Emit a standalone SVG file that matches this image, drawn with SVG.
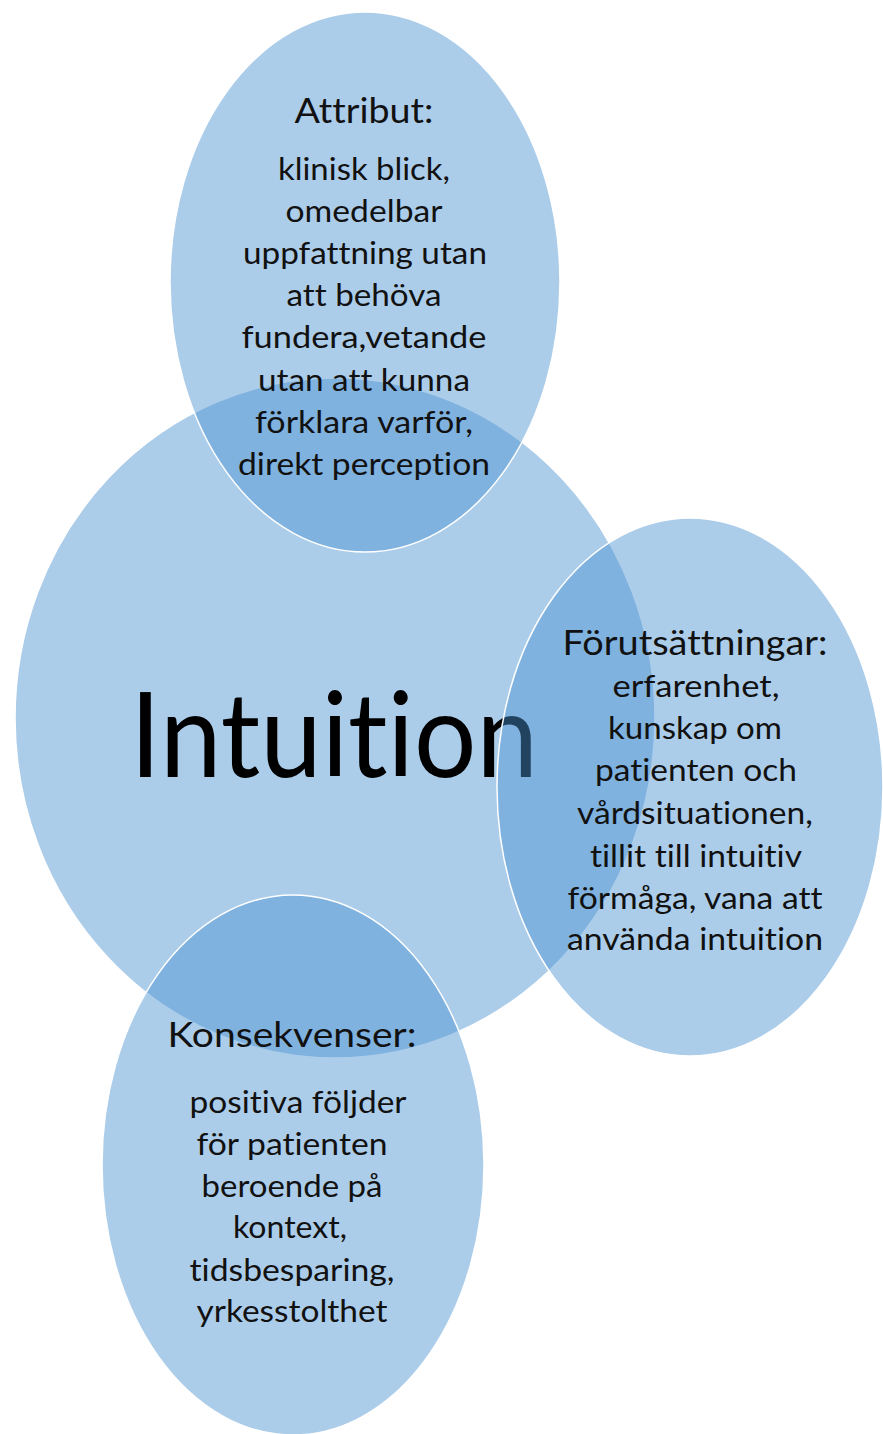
<svg xmlns="http://www.w3.org/2000/svg" width="883" height="1434" viewBox="0 0 883 1434">
<style>
.shape{fill:#4a92d1;fill-opacity:0.46;stroke:#ffffff;stroke-width:1.5}
text{font-family:Lato,"Open Sans","Liberation Sans",sans-serif;fill:#111111;text-anchor:middle;font-variant-ligatures:none;font-feature-settings:"liga" 0,"clig" 0,"dlig" 0}
.h{font-size:34px}
.b{font-size:31px}
.big{font-size:118px;fill:#000000}
</style>
<rect width="883" height="1434" fill="#ffffff"/>
<g id="intuition">
<ellipse class="shape" cx="335" cy="718" rx="320" ry="340"/>
<text class="big" x="334" y="777" textLength="408" lengthAdjust="spacingAndGlyphs">Intuition</text>
</g>
<g id="attribut">
<ellipse class="shape" cx="365" cy="282" rx="195" ry="270"/>
<text class="h" x="364" y="123" textLength="139" lengthAdjust="spacingAndGlyphs">Attribut:</text>
<text class="b" x="364" y="180" textLength="172" lengthAdjust="spacingAndGlyphs">klinisk blick,</text>
<text class="b" x="364" y="222" textLength="157" lengthAdjust="spacingAndGlyphs">omedelbar</text>
<text class="b" x="365" y="264" textLength="244" lengthAdjust="spacingAndGlyphs">uppfattning utan</text>
<text class="b" x="364" y="306" textLength="155" lengthAdjust="spacingAndGlyphs">att behöva</text>
<text class="b" x="364" y="348" textLength="245" lengthAdjust="spacingAndGlyphs">fundera,vetande</text>
<text class="b" x="364" y="391" textLength="212" lengthAdjust="spacingAndGlyphs">utan att kunna</text>
<text class="b" x="364" y="433" textLength="218" lengthAdjust="spacingAndGlyphs">förklara varför,</text>
<text class="b" x="364" y="475" textLength="252" lengthAdjust="spacingAndGlyphs">direkt perception</text>
</g>
<g id="forutsattningar">
<ellipse class="shape" cx="690" cy="787" rx="193" ry="269"/>
<text class="h" x="695" y="655" textLength="265" lengthAdjust="spacingAndGlyphs">Förutsättningar:</text>
<text class="b" x="696" y="697" textLength="167" lengthAdjust="spacingAndGlyphs">erfarenhet,</text>
<text class="b" x="695" y="739" textLength="174" lengthAdjust="spacingAndGlyphs">kunskap om</text>
<text class="b" x="696" y="781" textLength="202" lengthAdjust="spacingAndGlyphs">patienten och</text>
<text class="b" x="695" y="824" textLength="236" lengthAdjust="spacingAndGlyphs">vårdsituationen,</text>
<text class="b" x="696" y="867" textLength="212" lengthAdjust="spacingAndGlyphs">tillit till intuitiv</text>
<text class="b" x="695" y="909" textLength="255" lengthAdjust="spacingAndGlyphs">förmåga, vana att</text>
<text class="b" x="695" y="950" textLength="256" lengthAdjust="spacingAndGlyphs">använda intuition</text>
</g>
<g id="konsekvenser">
<ellipse class="shape" cx="293" cy="1165" rx="191" ry="270"/>
<text class="h" x="292" y="1047" textLength="249" lengthAdjust="spacingAndGlyphs">Konsekvenser:</text>
<text class="b" x="298" y="1113" textLength="217" lengthAdjust="spacingAndGlyphs">positiva följder</text>
<text class="b" x="292" y="1155" textLength="191" lengthAdjust="spacingAndGlyphs">för patienten</text>
<text class="b" x="292" y="1197" textLength="181" lengthAdjust="spacingAndGlyphs">beroende på</text>
<text class="b" x="290" y="1238" textLength="114" lengthAdjust="spacingAndGlyphs">kontext,</text>
<text class="b" x="292" y="1281" textLength="205" lengthAdjust="spacingAndGlyphs">tidsbesparing,</text>
<text class="b" x="292" y="1322" textLength="191" lengthAdjust="spacingAndGlyphs">yrkesstolthet</text>
</g>
<g id="connectors"></g>
</svg>
